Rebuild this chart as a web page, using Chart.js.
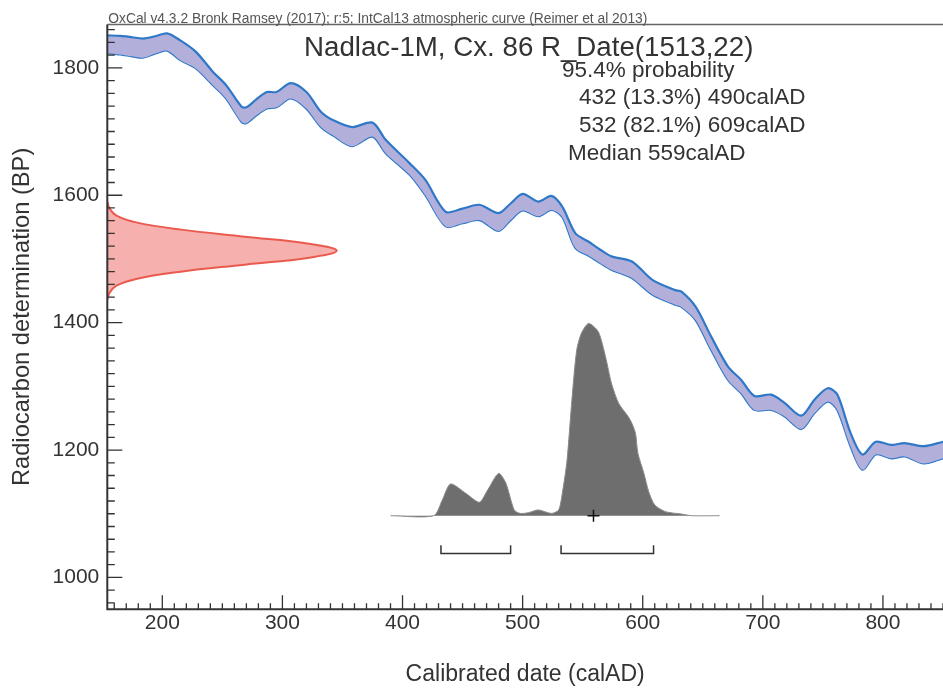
<!DOCTYPE html>
<html>
<head>
<meta charset="utf-8">
<title>Nadlac-1M, Cx. 86</title>
<script src="https://cdn.jsdelivr.net/npm/chart.js@4.4.1/dist/chart.umd.min.js"></script>
<style>
  html, body { margin: 0; padding: 0; background: #fff; overflow: hidden; }
  #wrap { width: 943px; height: 692px; position: relative; }
</style>
</head>
<body>
<div id="wrap"><canvas id="calChart"></canvas></div>
<script>
// IntCal13 band: calAD year, upper and lower edge in BP
const calYears = [154,165,175,184,195,204,215,228,242,253,266,270,278,287,295,307,320,332,342,358,375,386,406,419,436,450,464,480,490,500,513,524,533,544,555,565,574,591,608,627,632,644,657,671,682,693,707,718,732,743,754,762,773,783,794,807,818,834,850];
const calUpper = [1851,1850,1848,1846,1850,1854,1843,1825,1794,1773,1739,1738,1750,1762,1762,1776,1762,1731,1718,1707,1714,1687,1650,1624,1574,1579,1585,1572,1587,1602,1590,1599,1582,1540,1527,1514,1504,1496,1467,1451,1449,1425,1378,1331,1310,1285,1287,1274,1254,1279,1297,1287,1227,1193,1213,1208,1211,1206,1213];
const calLower = [1823,1821,1818,1816,1823,1827,1812,1799,1773,1752,1715,1713,1725,1736,1738,1752,1736,1707,1694,1677,1692,1666,1632,1600,1551,1556,1561,1544,1561,1576,1567,1577,1566,1517,1505,1493,1483,1470,1444,1428,1425,1404,1357,1310,1289,1263,1263,1253,1233,1258,1276,1263,1206,1169,1193,1187,1190,1179,1187];

// R_Date(1513,22) on the BP axis, relative height
const rdateBP = [1590,1579,1568,1557,1546,1535,1524,1513,1502,1491,1480,1469,1458,1447,1436];
const rdateDens = [0,0.01,0.04,0.13,0.32,0.6,0.88,1,0.88,0.6,0.32,0.13,0.04,0.01,0];

// calibrated date, relative height
const postYears = [390,426,433,440,453,464,471,480,486,493,498,505,513,524,530,533,537,541,545,549,555,563,569,574,580,588,591,594,596,601,605,610,619,632,641,664];
const postDens = [0,0,0.08,0.165,0.115,0.07,0.135,0.22,0.17,0.03,0.012,0.016,0.03,0.012,0.03,0.115,0.29,0.6,0.86,0.95,1,0.957,0.827,0.688,0.584,0.515,0.48,0.428,0.324,0.22,0.125,0.056,0.021,0.009,0,0];

// 95.4% ranges and median
const rangeFrom = [432, 532];
const rangeTo = [490, 609];
const medianYear = 559;

const xTicks = [200, 300, 400, 500, 600, 700, 800];
const yTicks = [1000, 1200, 1400, 1600, 1800];

const textLines = [
    'Nadlac-1M, Cx. 86 R_Date(1513,22)',
    '95.4% probability',
    '432 (13.3%) 490calAD',
    '532 (82.1%) 609calAD',
    'Median 559calAD'
];
const creditLine = 'OxCal v4.3.2 Bronk Ramsey (2017); r:5; IntCal13 atmospheric curve (Reimer et al 2013)';

const FONT = '"Liberation Sans", Arial, Helvetica, sans-serif';
const TXT = '#333';

function pairs(xs, ys) {
    return xs.map((x, i) => ({ x: x, y: ys[i] }));
}

// bracket heights on the density axis (below the baseline)
const bracketTop = -0.154;
const bracketLow = -0.196;
const bracketSets = rangeFrom.map((from, i) => ({
    data: [
        { x: from, y: bracketTop }, { x: from, y: bracketLow },
        { x: rangeTo[i], y: bracketLow }, { x: rangeTo[i], y: bracketTop }
    ],
    yAxisID: 'yDens',
    borderColor: '#333',
    borderWidth: 1.5,
    tension: 0,
    pointRadius: 0,
    fill: false
}));

// inward ticks, frame and the text block
const framePlugin = {
    id: 'framePlugin',
    afterDraw(chart) {
        const { ctx, chartArea: a, scales } = chart;
        const x = scales.x, y = scales.y;
        ctx.save();
        ctx.lineCap = 'butt';

        ctx.strokeStyle = '#666';
        ctx.lineWidth = 1.5;
        ctx.beginPath();
        ctx.moveTo(a.left, a.top);
        ctx.lineTo(a.right, a.top);
        ctx.stroke();

        ctx.strokeStyle = '#333';
        ctx.lineWidth = 1.3;
        ctx.beginPath();
        for (let v = 160; v <= 850; v += 10) {
            const px = x.getPixelForValue(v);
            const len = xTicks.includes(v) ? 14 : 6;
            ctx.moveTo(px, a.bottom);
            ctx.lineTo(px, a.bottom - len);
        }
        for (let v = 960; v <= 1860; v += 20) {
            const py = y.getPixelForValue(v);
            const len = yTicks.includes(v) ? 15 : 7.5;
            ctx.moveTo(a.left, py);
            ctx.lineTo(a.left + len, py);
        }
        ctx.stroke();

        ctx.lineWidth = 2;
        ctx.beginPath();
        ctx.moveTo(a.left, a.top);
        ctx.lineTo(a.left, a.bottom);
        ctx.lineTo(a.right, a.bottom);
        ctx.stroke();

        ctx.fillStyle = '#555';
        ctx.textBaseline = 'alphabetic';
        ctx.textAlign = 'left';
        ctx.font = '13.8px ' + FONT;
        ctx.fillText(creditLine, a.left + 1, a.top - 2);

        ctx.fillStyle = TXT;
        ctx.font = '27.7px ' + FONT;
        ctx.fillText(textLines[0], 304, 56);
        ctx.font = '22.5px ' + FONT;
        ctx.fillText(textLines[1], 562, 77);
        ctx.fillText(textLines[2], 579, 104);
        ctx.fillText(textLines[3], 579, 132);
        ctx.fillText(textLines[4], 568, 160);
        ctx.restore();
    }
};

const calChart = new Chart(document.getElementById('calChart'), {
    type: 'line',
    data: {
        datasets: [
            {
                label: 'IntCal13 upper',
                data: pairs(calYears, calUpper),
                borderColor: '#2f78c8',
                borderWidth: 2.2,
                backgroundColor: '#b3afdb',
                fill: '+1',
                tension: 0.3,
                pointRadius: 0
            },
            {
                label: 'IntCal13 lower',
                data: pairs(calYears, calLower),
                borderColor: '#2f78c8',
                borderWidth: 2.2,
                fill: false,
                tension: 0.3,
                pointRadius: 0
            },
            {
                label: 'R_Date',
                data: pairs(rdateDens, rdateBP),
                xAxisID: 'xDens',
                borderColor: '#ea5a4e',
                borderWidth: 2,
                backgroundColor: '#f6b1ae',
                fill: 'shape',
                tension: 0.4,
                pointRadius: 0
            },
            {
                label: 'Calibrated',
                data: pairs(postYears, postDens),
                yAxisID: 'yDens',
                borderColor: '#8a8a8a',
                borderWidth: 1,
                backgroundColor: '#6e6e6e',
                fill: 'shape',
                tension: 0.25,
                pointRadius: 0
            },
            {
                label: 'Median',
                data: [{ x: medianYear, y: 0 }],
                yAxisID: 'yDens',
                order: -1,
                showLine: false,
                pointStyle: 'cross',
                pointRadius: 6,
                borderColor: '#111',
                borderWidth: 1.5
            },
            ...bracketSets
        ]
    },
    options: {
        responsive: true,
        maintainAspectRatio: false,
        animation: false,
        layout: { autoPadding: false, padding: { top: 24.5, left: 0, right: 0, bottom: 0 } },
        plugins: {
            legend: { display: false },
            tooltip: { enabled: false }
        },
        scales: {
            x: {
                type: 'linear',
                position: 'bottom',
                min: 154.2,
                max: 850,
                afterBuildTicks: s => { s.ticks = xTicks.map(v => ({ value: v })); },
                afterFit: s => { s.height = 82.7; s.paddingLeft = 0; s.paddingRight = 0; },
                grid: { display: false, drawTicks: false },
                border: { display: false },
                ticks: {
                    color: TXT, padding: 1, maxRotation: 0,
                    font: { size: 21, family: FONT },
                    callback: v => String(v)
                },
                title: {
                    display: true,
                    text: 'Calibrated date (calAD)',
                    color: TXT,
                    font: { size: 23, family: FONT },
                    padding: { top: 0, bottom: 3.7 }
                }
            },
            y: {
                type: 'linear',
                position: 'left',
                min: 950,
                max: 1868,
                afterBuildTicks: s => { s.ticks = yTicks.map(v => ({ value: v })); },
                afterFit: s => { s.width = 107.3; s.paddingTop = 0; s.paddingBottom = 0; },
                grid: { display: false, drawTicks: false },
                border: { display: false },
                ticks: {
                    color: TXT, padding: 8,
                    font: { size: 21, family: FONT },
                    callback: v => String(v)
                },
                title: {
                    display: true,
                    text: 'Radiocarbon determination (BP)',
                    color: TXT,
                    font: { size: 23.7, family: FONT },
                    padding: { top: 8.3, bottom: 0 }
                }
            },
            xDens: { type: 'linear', display: false, min: 0, max: 3.643 },
            yDens: { type: 'linear', display: false, min: -0.4867, max: 2.5543 }
        }
    },
    plugins: [framePlugin]
});
</script>
</body>
</html>
